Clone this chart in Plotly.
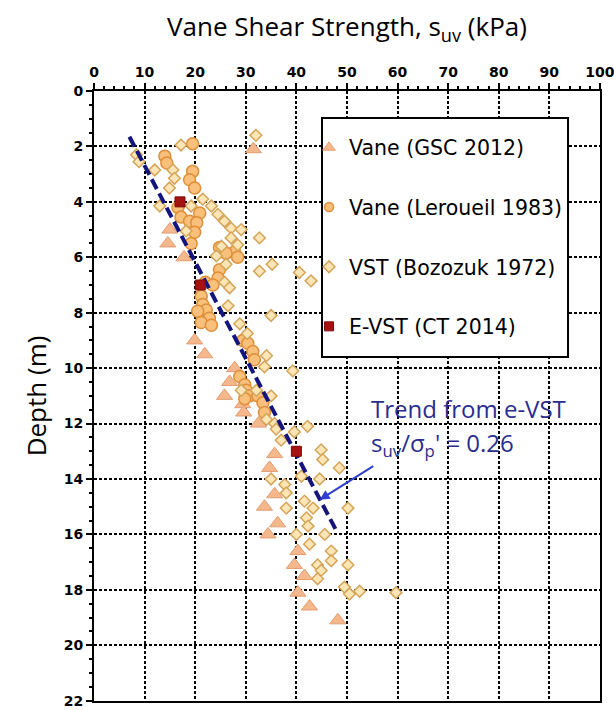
import plotly.graph_objects as go

# ---- data ----
gsc_suv = [31.5, 15.0, 14.6, 17.8, 19.9, 21.9, 27.8, 26.8, 25.8, 29.4, 29.6, 32.5,
           35.7, 34.7, 35.7, 33.7, 36.3, 34.4, 40.3, 39.6, 41.6, 40.3, 42.6, 48.2]
gsc_depth = [2.1, 5.0, 5.5, 6.0, 9.0, 9.5, 10.0, 10.5, 11.0, 11.3, 11.6, 12.0,
             13.1, 13.6, 14.55, 15.0, 15.6, 16.0, 16.6, 17.1, 17.5, 18.1, 18.6, 19.1]

ler_suv = [19.5, 14.0, 14.4, 19.5, 18.9, 19.9, 16.6, 20.9, 17.2, 18.9, 20.3, 19.9,
           19.2, 24.8, 27.8, 26.1, 28.4, 24.8, 24.5, 22.0, 23.5, 21.2, 21.5, 22.2,
           20.5, 22.8, 21.2, 23.2, 29.4, 30.4, 31.4, 31.7, 28.8, 29.8, 30.1, 30.7,
           32.4, 29.8, 33.4, 33.7]
ler_depth = [1.9, 2.35, 2.6, 2.9, 3.2, 3.5, 4.2, 4.4, 4.55, 4.7, 4.75, 5.1,
             5.5, 5.65, 5.8, 5.85, 6.0, 6.45, 6.75, 6.9, 7.0, 7.4, 7.7, 7.9,
             7.95, 8.2, 8.35, 8.45, 9.0, 9.1, 9.4, 9.7, 10.3, 10.6, 10.8, 11.0,
             11.0, 11.1, 11.25, 11.6]

boz_suv = [32.0, 17.2, 8.4, 8.9, 12.0, 15.6, 15.9, 14.9, 21.5, 13.0, 19.2, 23.2,
           24.5, 25.8, 27.1, 29.1, 18.2, 27.1, 32.7, 28.4, 25.2, 24.2, 26.1, 35.2,
           32.7, 40.6, 42.9, 25.8, 26.8, 26.5, 35.0, 28.8, 30.3, 34.1, 33.7, 39.3,
           29.1, 32.1, 35.0, 34.1, 35.7, 42.2, 36.0, 39.6, 37.0, 44.9, 45.2, 48.5,
           41.0, 44.6, 35.0, 37.7, 38.0, 41.6, 38.0, 43.3, 50.2, 42.0, 42.3, 40.0,
           45.6, 42.6, 46.9, 46.9, 44.2, 50.2, 44.9, 44.2, 49.5, 52.5, 59.7, 50.5]
boz_depth = [1.6, 1.95, 2.3, 2.55, 2.85, 2.85, 3.15, 3.5, 3.9, 4.15, 4.15, 4.15,
             4.45, 4.7, 4.95, 5.0, 5.05, 5.3, 5.3, 5.55, 5.6, 5.95, 6.25, 6.25,
             6.5, 6.55, 6.85, 6.9, 7.1, 7.75, 8.1, 8.4, 8.75, 9.55, 9.95, 10.1,
             10.8, 10.8, 11.0, 11.85, 12.0, 12.1, 12.2, 12.3, 12.6, 12.95, 13.3, 13.6,
             13.9, 14.0, 14.0, 14.2, 14.5, 14.8, 15.05, 15.05, 15.05, 15.4, 15.7, 16.0,
             16.0, 16.35, 16.6, 16.95, 17.1, 17.1, 17.3, 17.6, 17.9, 18.05, 18.1, 18.15]

evst_suv = [17.0, 21.0, 40.0]
evst_depth = [4.0, 7.0, 13.0]

trend_suv = [7.0, 48.0]
trend_depth = [1.65, 15.9]

x_ticks = list(range(0, 101, 10))
y_ticks = list(range(0, 23, 2))

# ---- styles ----
GSC = dict(symbol='triangle-up', color='#f5b78c', line=dict(color='#e39d72', width=1))
LER = dict(symbol='circle', color='#f8c07a', line=dict(color='#df8f3a', width=1.5))
BOZ = dict(symbol='diamond', color='#fde5b5', line=dict(color='#d4a55a', width=1.5))
EVS = dict(symbol='square', color='#a51212', line=dict(color='#7a0a0a', width=1))

fig = go.Figure()
fig.add_trace(go.Scatter(x=gsc_suv, y=gsc_depth, mode='markers', showlegend=False,
                         marker=dict(size=14, **GSC)))
fig.add_trace(go.Scatter(x=ler_suv, y=ler_depth, mode='markers', showlegend=False,
                         marker=dict(size=12, **LER)))
fig.add_trace(go.Scatter(x=boz_suv, y=boz_depth, mode='markers', showlegend=False,
                         marker=dict(size=9, **BOZ)))
fig.add_trace(go.Scatter(x=trend_suv, y=trend_depth, mode='lines', showlegend=False,
                         hoverinfo='skip',
                         line=dict(color='#14147e', width=4, dash='11px,5px')))
fig.add_trace(go.Scatter(x=evst_suv, y=evst_depth, mode='markers', showlegend=False,
                         marker=dict(size=10, **EVS)))

# legend-only entries (small symbols as in the reference legend)
for name, grp, sty, sz in [('Vane (GSC 2012)', 'a', GSC, 11),
                           ('Vane (Leroueil 1983)', 'b', LER, 9),
                           ('VST (Bozozuk 1972)', 'c', BOZ, 9),
                           ('E-VST (CT 2014)', 'd', EVS, 9)]:
    fig.add_trace(go.Scatter(x=[None], y=[None], mode='markers', name=name,
                             legendgroup=grp, marker=dict(size=sz, **sty)))

axis_common = dict(
    showgrid=True, gridcolor='black', gridwidth=1.5, griddash='3px,2px',
    showline=True, linecolor='black', linewidth=2, mirror=True,
    ticks='outside', ticklen=6, tickwidth=2, tickcolor='black',
    tickfont=dict(family='DejaVu Sans', size=14, color='black', weight='bold'),
    ticklabeloverflow='allow',
    zeroline=False,
)

fig.update_xaxes(
    range=[0, 100.02], side='top', tickvals=x_ticks,
    minor=dict(dtick=2, ticks='outside', ticklen=3, tickwidth=1.5, tickcolor='black', showgrid=False),
    title=dict(text='Vane Shear Strength, s<sub>uv</sub> (kPa)',
               font=dict(family='Open Sans', size=26, color='black'), standoff=20),
    **axis_common)
fig.update_yaxes(
    range=[22.01, 0], tickvals=y_ticks,
    minor=dict(dtick=0.5, ticks='outside', ticklen=3, tickwidth=1.5, tickcolor='black', showgrid=False),
    title=dict(text='Depth (m)', font=dict(family='Open Sans', size=26, color='black'), standoff=10),
    **axis_common)

# legend frame
fig.add_shape(type='rect', xref='paper', yref='paper',
              x0=0.4506, x1=0.9368, y0=0.5639, y1=0.9557,
              fillcolor='white', line=dict(color='black', width=2), layer='above')

fig.add_annotation(x=44.6, y=14.75, ax=55.5, ay=13.5, xref='x', yref='y', axref='x', ayref='y',
                   text='', showarrow=True, arrowhead=2, arrowsize=1, arrowwidth=2,
                   arrowcolor='#2f3fcf')
fig.add_annotation(x=54.3, y=11.45, xref='x', yref='y', xanchor='left', yanchor='middle',
                   text='Trend from e-VST', showarrow=False,
                   font=dict(family='Open Sans', size=24, color='#2a2d8e'))
fig.add_annotation(x=54.3, y=12.75, xref='x', yref='y', xanchor='left', yanchor='middle',
                   text="s<sub>uv</sub>/σ<sub>p</sub>' = 0.26", showarrow=False,
                   font=dict(family='Open Sans', size=24, color='#2a2d8e'))

fig.update_layout(
    width=614, height=710,
    margin=dict(l=94, r=14, t=91, b=9, autoexpand=False),
    plot_bgcolor='white', paper_bgcolor='white',
    showlegend=True,
    legend=dict(x=0.425, y=0.94, xanchor='left', yanchor='top',
                bgcolor='rgba(0,0,0,0)', borderwidth=0,
                font=dict(family='DejaVu Sans', size=20.5, color='black'),
                tracegroupgap=30, itemsizing='trace', traceorder='grouped'),
)

fig.write_html('out.html')
